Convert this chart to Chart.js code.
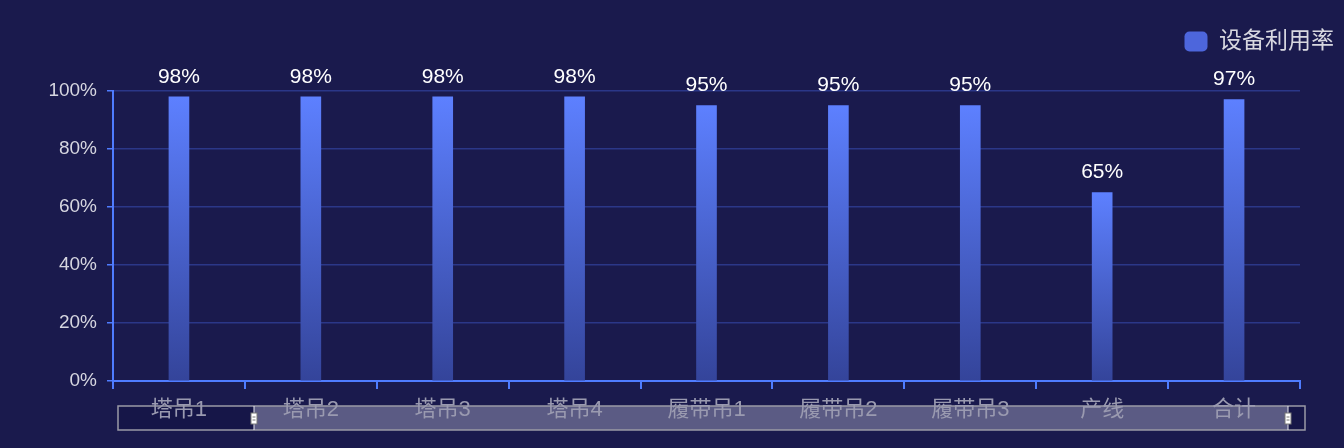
<!DOCTYPE html>
<html>
<head>
<meta charset="utf-8">
<script src="https://cdn.jsdelivr.net/npm/chart.js@4/dist/chart.umd.min.js"></script>
<style>
  html, body { margin: 0; padding: 0; background: #1a1a4d; }
  #wrap { width: 1344px; height: 448px; }
</style>
</head>
<body>
<div id="wrap"><canvas id="c" width="1344" height="448"></canvas></div>
<script>
const categories = ['塔吊1', '塔吊2', '塔吊3', '塔吊4', '履带吊1', '履带吊2', '履带吊3', '产线', '合计'];
const utilization = [98, 98, 98, 98, 95, 95, 95, 65, 97];
const yTicks = [0, 20, 40, 60, 80, 100];

const FONT = "'Liberation Sans', 'Noto Sans CJK SC', sans-serif";

// value labels on top of each bar
const valueLabels = {
  id: 'valueLabels',
  afterDatasetsDraw(chart) {
    const ctx = chart.ctx;
    const meta = chart.getDatasetMeta(0);
    ctx.save();
    ctx.fillStyle = '#ffffff';
    ctx.font = '21px ' + FONT;
    ctx.textAlign = 'center';
    ctx.textBaseline = 'middle';
    meta.data.forEach((bar, i) => {
      ctx.fillText(utilization[i] + '%', bar.x, bar.y - 20);
    });
    ctx.restore();
  }
};

// keep a fixed gap between the legend and the plot
const legendHeight = {
  id: 'legendHeight',
  beforeLayout(chart) {
    const lg = chart.legend;
    if (lg && !lg._fixed) {
      const fit = lg.fit;
      lg.fit = function () { fit.call(this); this.height = 71; };
      lg._fixed = true;
    }
  }
};

// the zoom slider under the x axis (decoration only)
const slider = {
  id: 'slider',
  beforeDraw(chart) {
    const ctx = chart.ctx;
    const a = chart.chartArea;
    const left = a.left + 5, right = a.right + 5;
    const top = a.bottom + 25, h = 24;
    const h1 = left + 136, h2 = right - 17;
    ctx.save();
    ctx.fillStyle = 'rgba(20,20,70,0.6)';
    ctx.fillRect(left, top, right - left, h);
    ctx.fillStyle = 'rgba(150,150,180,0.55)';
    ctx.fillRect(h1, top, h2 - h1, h);
    ctx.strokeStyle = '#9a9aa6';
    ctx.lineWidth = 1.5;
    ctx.strokeRect(left, top, right - left, h);
    [h1, h2].forEach(x => {
      ctx.strokeStyle = '#e6e6ee';
      ctx.lineWidth = 1;
      ctx.beginPath();
      ctx.moveTo(x, top);
      ctx.lineTo(x, top + h);
      ctx.stroke();
      ctx.fillStyle = '#ffffff';
      ctx.fillRect(x - 3, top + 7, 6, 11);
      ctx.strokeStyle = '#777';
      ctx.strokeRect(x - 3, top + 7, 6, 11);
      ctx.beginPath();
      ctx.moveTo(x - 1.5, top + 11); ctx.lineTo(x + 1.5, top + 11);
      ctx.moveTo(x - 1.5, top + 14); ctx.lineTo(x + 1.5, top + 14);
      ctx.stroke();
    });
    ctx.restore();
  }
};

function barGradient(context) {
  const chart = context.chart;
  const area = chart.chartArea;
  if (!area) return '#5b7fff';
  const v = context.raw;
  const top = chart.scales.y.getPixelForValue(v);
  const g = chart.ctx.createLinearGradient(0, top, 0, area.bottom);
  g.addColorStop(0, '#5d80ff');
  g.addColorStop(1, '#34449a');
  return g;
}

const data = {
  labels: categories,
  datasets: [{
    label: '设备利用率',
    data: utilization,
    backgroundColor: barGradient,
    barThickness: 20
  }]
};

const config = {
  type: 'bar',
  data: data,
  options: {
    responsive: false,
    animation: false,
    layout: { padding: { top: 20, right: 0, left: 0, bottom: 0 } },
    plugins: {
      legend: {
        position: 'top',
        align: 'end',
        labels: {
          color: '#d8d8e0',
          font: { size: 23, family: FONT },
          boxWidth: 23,
          boxHeight: 20,
          useBorderRadius: true,
          borderRadius: 5,
          padding: 10,
          generateLabels(chart) {
            return [{
              text: '设备利用率',
              fillStyle: '#4d66dc',
              strokeStyle: '#4d66dc',
              lineWidth: 0,
              fontColor: '#d8d8e0',
              borderRadius: 5,
              datasetIndex: 0
            }];
          }
        }
      },
      tooltip: { enabled: false }
    },
    scales: {
      x: {
        offset: true,
        border: { color: '#4f7cff', width: 2 },
        grid: {
          offset: true,
          drawOnChartArea: false,
          color: '#4f7cff',
          lineWidth: 2,
          tickLength: 8
        },
        ticks: {
          color: '#9a9ab0',
          font: { size: 22, family: FONT },
          padding: 8
        },
        afterFit(scale) { scale.height = 67; }
      },
      y: {
        min: 0,
        max: 100,
        afterBuildTicks(scale) { scale.ticks = yTicks.map(v => ({ value: v })); },
        border: { color: '#4f7cff', width: 2 },
        grid: {
          color: '#2b3788',
          lineWidth: 1.5,
          tickColor: '#4f7cff',
          tickLength: 6
        },
        ticks: {
          color: '#d6d6e0',
          font: { size: 19, family: FONT },
          padding: 10,
          callback: v => v + '%'
        },
        afterFit(scale) { scale.width = 113; }
      },
      // empty right-hand axis that only reserves the space to the right of the plot
      yRight: {
        position: 'right',
        display: true,
        grid: { display: false },
        border: { display: false },
        ticks: { display: false },
        afterFit(scale) { scale.width = 44; }
      }
    }
  },
  plugins: [legendHeight, slider, valueLabels]
};

const ctx = document.getElementById('c').getContext('2d');
const myChart = new Chart(ctx, config);
</script>
</body>
</html>
